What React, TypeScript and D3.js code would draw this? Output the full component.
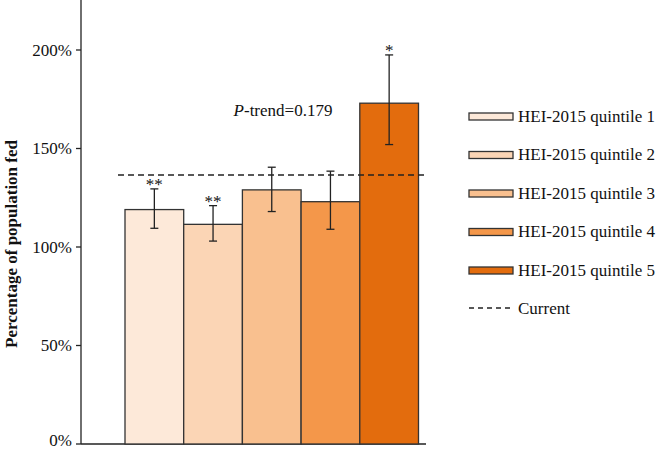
import React from "react";
import * as d3 from "d3";

const quintiles = ["HEI-2015 quintile 1", "HEI-2015 quintile 2", "HEI-2015 quintile 3", "HEI-2015 quintile 4", "HEI-2015 quintile 5"];
const means = [119, 111.5, 129, 123, 173];
const lower = [109.5, 103, 118, 109, 152];
const upper = [129.5, 121, 140.5, 138.5, 197.5];
const stars = ["**", "**", "", "", "*"];
const colors = ["#fde9d9", "#fbd5b5", "#f9c08f", "#f4974a", "#e36c0d"];
const current = 136.5;
const yTicks = [0, 50, 100, 150, 200];

const W = 658, H = 451;
const font = "'Liberation Serif', 'Times New Roman', serif";

export default function App() {
  const x = d3.scaleBand<string>().domain(quintiles).range([125, 418.5]).padding(0);
  const y = d3.scaleLinear().domain([0, 200]).range([444, 50]);
  const top = y.invert(0);

  return (
    <svg width={W} height={H} style={{ position: "absolute", left: 0, top: 0, background: "#fff" }} fontFamily={font}>
      {/* y axis */}
      <line x1={81} x2={81} y1={y(top)} y2={y(0)} stroke="#222" strokeWidth={1.3} />
      <line x1={81} x2={426} y1={y(0)} y2={y(0)} stroke="#222" strokeWidth={1.3} />
      {yTicks.map(t => (
        <g key={t}>
          <line x1={76} x2={81} y1={y(t)} y2={y(t)} stroke="#222" strokeWidth={1.3} />
          {/* bottom label nudged up a little so it stays inside the frame */}
          <text x={72} y={y(t)} dy={t === 0 ? "0.1em" : "0.33em"} textAnchor="end" fontSize={17} fill="#111">{t}%</text>
        </g>
      ))}
      <text transform={`translate(17,${(y(0) + y(top)) / 2 + 22}) rotate(-90)`} textAnchor="middle" fontSize={17} fontWeight="bold" fill="#111">
        Percentage of population fed
      </text>

      {/* bars */}
      {quintiles.map((q, i) => {
        const bx = x(q)!;
        const cx = bx + x.bandwidth() / 2;
        return (
          <g key={q}>
            <rect x={bx} y={y(means[i])} width={x.bandwidth()} height={y(0) - y(means[i])} fill={colors[i]} stroke="#333" strokeWidth={1.3} />
            <line x1={cx} x2={cx} y1={y(upper[i])} y2={y(lower[i])} stroke="#222" strokeWidth={1.3} />
            <line x1={cx - 4} x2={cx + 4} y1={y(upper[i])} y2={y(upper[i])} stroke="#222" strokeWidth={1.3} />
            <line x1={cx - 4} x2={cx + 4} y1={y(lower[i])} y2={y(lower[i])} stroke="#222" strokeWidth={1.3} />
            {stars[i] && (
              <text x={cx} y={y(upper[i]) + 1} textAnchor="middle" fontSize={17} fill="#111">{stars[i]}</text>
            )}
          </g>
        );
      })}

      {/* current dashed line */}
      <line x1={118} x2={426} y1={y(current)} y2={y(current)} stroke="#222" strokeWidth={1.5} strokeDasharray="6,4" />

      <text x={283} y={116} textAnchor="middle" fontSize={17} fill="#111">
        <tspan fontStyle="italic">P</tspan>-trend=0.179
      </text>

      {/* legend */}
      {quintiles.map((q, i) => {
        const ly = 116 + i * 38.5;
        return (
          <g key={"l" + q}>
            <rect x={469} y={ly - 3} width={44} height={7} fill={colors[i]} stroke="#333" strokeWidth={1.3} />
            <text x={518} y={ly} dy="0.33em" fontSize={17} fill="#111">{q}</text>
          </g>
        );
      })}
      <line x1={469} x2={513} y1={308} y2={308} stroke="#222" strokeWidth={1.5} strokeDasharray="5,4" />
      <text x={518} y={308} dy="0.33em" fontSize={17} fill="#111">Current</text>
    </svg>
  );
}
